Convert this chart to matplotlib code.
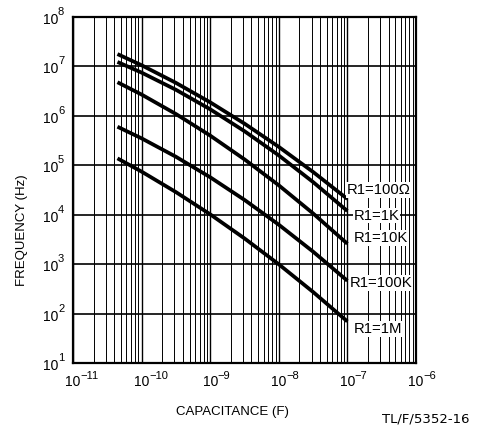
"""
Frequency vs. timing capacitance for several R1 values (log-log, scanned datasheet style)
"""
import numpy as np
import matplotlib
matplotlib.use('Agg')
import matplotlib.pyplot as plt
from matplotlib.ticker import FixedLocator, NullFormatter, NullLocator

plt.rcParams['font.family'] = ['Liberation Sans', 'DejaVu Sans']

# 数据：电容 (F) 及各 R1 对应的频率 (Hz)，按图读取的 log10 值
capacitance = [4.45e-11, 1e-10, 10**-9.5, 1e-9, 10**-8.5, 1e-8, 10**-7.5, 1e-7]
logf_100 = [7.25, 7.024, 6.668, 6.274, 5.843, 5.373, 4.865, 4.319]
logf_1k = [7.09, 6.875, 6.528, 6.133, 5.690, 5.200, 4.661, 4.075]
logf_10k = [6.68, 6.431, 6.038, 5.601, 5.120, 4.595, 4.026, 3.413]
logf_100k = [5.78, 5.545, 5.173, 4.758, 4.300, 3.798, 3.253, 2.664]
logf_1m = [5.14, 4.872, 4.458, 4.008, 3.521, 2.997, 2.437, 1.841]

series = [logf_100, logf_1k, logf_10k, logf_100k, logf_1m]
labels = ['R1=100Ω', 'R1=1K', 'R1=10K', 'R1=100K', 'R1=1M']
label_x = [9.86e-8, 1.22e-7, 1.22e-7, 1.09e-7, 1.25e-7]
label_y = [10**4.50, 10**3.98, 10**3.53, 10**2.62, 10**1.69]

x_exp = [-11, -10, -9, -8, -7, -6]
y_exp = [1, 2, 3, 4, 5, 6, 7, 8]
x_decades = [10.0 ** e for e in x_exp]
x_minor = [m * d for d in x_decades[:-1] for m in range(2, 10)]
y_decades = [10.0 ** e for e in y_exp]

fig = plt.figure(figsize=(4.85, 4.29), dpi=100)
ax = fig.add_axes([0.1505, 0.1538, 0.7072, 0.8066])

ax.set_xscale('log')
ax.set_yscale('log')
ax.set_xlim(1e-11, 1e-6)
ax.set_ylim(1e1, 1e8)

# 对数坐标纸网格：x 方向 1..9，y 方向仅十倍程
ax.xaxis.set_major_locator(FixedLocator(x_decades))
ax.xaxis.set_minor_locator(FixedLocator(x_minor))
ax.xaxis.set_major_formatter(NullFormatter())
ax.xaxis.set_minor_formatter(NullFormatter())
ax.yaxis.set_major_locator(FixedLocator(y_decades))
ax.yaxis.set_minor_locator(NullLocator())
ax.yaxis.set_major_formatter(NullFormatter())
ax.grid(True, which='major', axis='x', color='black', lw=1.0)
ax.grid(True, which='minor', axis='x', color='black', lw=0.7)
ax.grid(True, which='major', axis='y', color='black', lw=1.2)
ax.set_axisbelow(True)
ax.tick_params(which='both', length=0)

for lf in series:
    ax.plot(capacitance, np.power(10.0, lf), color='black', lw=2.7,
            solid_capstyle='butt', solid_joinstyle='round', zorder=3)

for x, y, t in zip(label_x, label_y, labels):
    ax.text(x, y, t, fontsize=10.7, ha='left', va='center', zorder=4,
            bbox=dict(facecolor='white', edgecolor='none', pad=0.5))

for s in ax.spines.values():
    s.set_linewidth(1.6)

# 刻度标签：手工绘制 "10" + 较大的指数
for xv, e in zip(x_decades, x_exp):
    ax.annotate('10', (xv, 0), xycoords=('data', 'axes fraction'),
                xytext=(0, -13.7), textcoords='offset points',
                ha='center', va='center', fontsize=10, annotation_clip=False)
    ax.annotate(str(e).replace('-', '\u2212'), (xv, 0),
                xycoords=('data', 'axes fraction'),
                xytext=(5.4, -9.2), textcoords='offset points',
                ha='left', va='center', fontsize=8, annotation_clip=False)

for yv, e in zip(y_decades, y_exp):
    ax.annotate('10', (0, yv), xycoords=('axes fraction', 'data'),
                xytext=(-10.8, -2.2), textcoords='offset points',
                ha='right', va='center', fontsize=10, annotation_clip=False)
    ax.annotate(str(e), (0, yv), xycoords=('axes fraction', 'data'),
                xytext=(-10.8, 3.6), textcoords='offset points',
                ha='left', va='center', fontsize=8, annotation_clip=False)

ax.set_xlabel('CAPACITANCE (F)', fontsize=9.5)
ax.xaxis.set_label_coords(0.464, -0.142)
ax.xaxis.label.set_va('center')
ax.set_ylabel('FREQUENCY (Hz)', fontsize=9.5)
ax.yaxis.set_label_coords(-0.149, 0.384)
ax.yaxis.label.set_va('center')

fig.text(0.787, 0.023, 'TL/F/5352-16', fontsize=9.5, ha='left', va='center',
         family='DejaVu Sans')

fig.savefig('out.png', dpi=100)
